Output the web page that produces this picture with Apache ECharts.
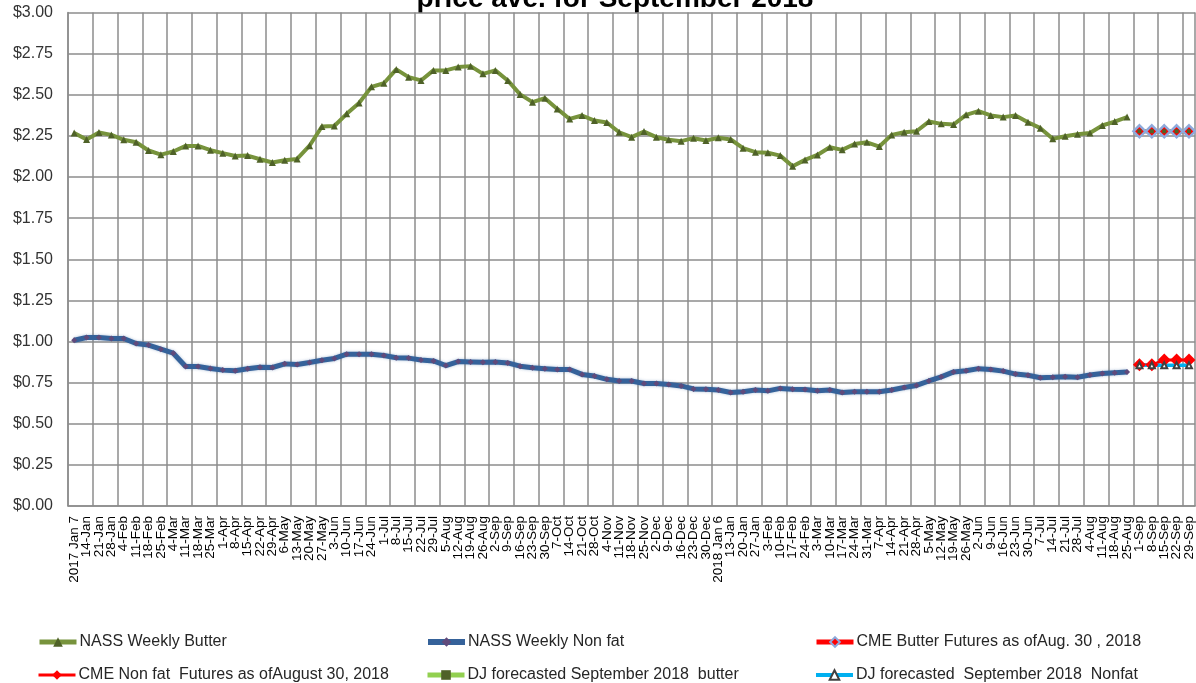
<!DOCTYPE html>
<html>
<head>
<meta charset="utf-8">
<script src="https://cdn.jsdelivr.net/npm/echarts@6/dist/echarts.min.js"></script>
<style>
html,body{margin:0;padding:0;background:#fff;}
#chart{width:1196px;height:683px;}
</style>
</head>
<body>
<div id="chart"></div>
<script>
const categories = ['2017 Jan 7','14-Jan','21-Jan','28-Jan','4-Feb','11-Feb','18-Feb','25-Feb','4-Mar','11-Mar','18-Mar','25-Mar','1-Apr','8-Apr','15-Apr','22-Apr','29-Apr','6-May','13-May','20-May','27-May','3-Jun','10-Jun','17-Jun','24-Jun','1-Jul','8-Jul','15-Jul','22-Jul','29-Jul','5-Aug','12-Aug','19-Aug','26-Aug','2-Sep','9-Sep','16-Sep','23-Sep','30-Sep','7-Oct','14-Oct','21-Oct','28-Oct','4-Nov','11-Nov','18-Nov','25-Nov','2-Dec','9-Dec','16-Dec','23-Dec','30-Dec','2018 Jan 6','13-Jan','20-Jan','27-Jan','3-Feb','10-Feb','17-Feb','24-Feb','3-Mar','10-Mar','17-Mar','24-Mar','31-Mar','7-Apr','14-Apr','21-Apr','28-Apr','5-May','12-May','19-May','26-May','2-Jun','9-Jun','16-Jun','23-Jun','30-Jun','7-Jul','14-Jul','21-Jul','28-Jul','4-Aug','11-Aug','18-Aug','25-Aug','1-Sep','8-Sep','15-Sep','22-Sep','29-Sep'];

const nassButter = [2.268,2.228,2.270,2.256,2.226,2.211,2.161,2.136,2.155,2.189,2.189,2.163,2.145,2.128,2.130,2.108,2.088,2.102,2.110,2.190,2.307,2.310,2.384,2.450,2.548,2.570,2.654,2.607,2.587,2.648,2.648,2.668,2.674,2.627,2.648,2.587,2.502,2.455,2.479,2.414,2.353,2.374,2.343,2.331,2.272,2.242,2.276,2.242,2.226,2.218,2.236,2.222,2.238,2.228,2.175,2.151,2.147,2.130,2.065,2.104,2.134,2.181,2.165,2.201,2.211,2.185,2.256,2.272,2.278,2.337,2.323,2.319,2.378,2.400,2.374,2.364,2.374,2.333,2.297,2.232,2.248,2.260,2.268,2.313,2.337,2.364,null,null,null,null,null];

const nassNonfat = [1.008,1.024,1.024,1.018,1.018,0.988,0.978,0.953,0.929,0.848,0.848,0.836,0.826,0.822,0.834,0.844,0.842,0.864,0.860,0.872,0.886,0.897,0.923,0.923,0.923,0.915,0.901,0.899,0.888,0.882,0.854,0.878,0.876,0.874,0.876,0.870,0.850,0.840,0.835,0.830,0.830,0.800,0.790,0.770,0.760,0.760,0.745,0.745,0.738,0.730,0.712,0.710,0.705,0.690,0.695,0.705,0.700,0.715,0.710,0.708,0.700,0.705,0.690,0.695,0.695,0.695,0.705,0.720,0.733,0.760,0.785,0.815,0.822,0.835,0.830,0.820,0.802,0.795,0.780,0.782,0.786,0.783,0.796,0.806,0.810,0.814,null,null,null,null,null];

const forecastPad = new Array(86).fill(null);
const cmeButter = forecastPad.concat([2.278,2.278,2.278,2.278,2.278]);
const cmeNonfat = forecastPad.concat([0.858,0.858,0.887,0.887,0.887]);
const djButter = forecastPad.concat([2.278,2.278,2.278,2.278,2.278]);
const djNonfat = forecastPad.concat([0.855,0.855,0.855,0.855,0.855]);

const yTicks = {min:0, max:3, interval:0.25};
const titleText = 'price ave. for September 2018';

const chart = echarts.init(document.getElementById('chart'), null, {renderer:'canvas'});
const FONT = 'Liberation Sans';
function legendAt(name, left, top, lw){
  return {
    data:[name], left:left, top:top, itemWidth:37, itemHeight:12, itemGap:0, padding:0,
    lineStyle:{width:lw},
    textStyle:{fontFamily:FONT, fontSize:16, color:'#262626', padding:[0,0,0,-2]}
  };
}
chart.setOption({
  animation:false,
  backgroundColor:'#fff',
  graphic:[{
    type:'text', x:615, y:13,
    style:{text:titleText, font:'bold 28px "Liberation Sans"', fill:'#000', textAlign:'center', textVerticalAlign:'bottom'}
  }],
  grid:{left:68, right:0, top:12.5, bottom:177, containLabel:false},
  legend:[
    legendAt('NASS Weekly Butter', 37, 634, 5),
    legendAt('NASS Weekly Non fat', 425, 634, 6),
    legendAt('CME Butter Futures as ofAug. 30 , 2018', 814, 634, 5),
    legendAt('CME Non fat  Futures as ofAugust 30, 2018', 37, 667, 3),
    legendAt('DJ forecasted September 2018  butter', 425, 667, 5),
    legendAt('DJ forecasted  September 2018  Nonfat', 814, 667, 4)
  ],
  xAxis:{
    type:'category', data:categories, boundaryGap:true,
    axisLine:{lineStyle:{color:'#8c8c8c', width:1.5}},
    axisTick:{show:false},
    splitLine:{show:true, interval:1, lineStyle:{color:'#8c8c8c', width:1.5}},
    axisLabel:{interval:0, rotate:90, fontFamily:FONT, fontSize:13.5, color:'#000', margin:10, hideOverlap:false}
  },
  yAxis:{
    type:'value', min:yTicks.min, max:yTicks.max, interval:yTicks.interval,
    axisLine:{show:true, lineStyle:{color:'#8c8c8c', width:1.5}},
    axisTick:{show:false},
    splitLine:{lineStyle:{color:'#8c8c8c', width:1.5}},
    axisLabel:{fontFamily:FONT, fontSize:16, color:'#333', margin:15, formatter:v=>'$'+v.toFixed(2)}
  },
  series:[
    {name:'NASS Weekly Butter', type:'line', data:nassButter, symbol:'triangle', symbolSize:7,
      lineStyle:{color:'#77933C', width:4}, itemStyle:{color:'#4F6228'}},
    {name:'NASS Weekly Non fat', type:'line', data:nassNonfat, symbol:'diamond', symbolSize:6,
      lineStyle:{color:'#35629A', width:5, shadowColor:'rgba(53,98,154,0.4)', shadowBlur:3}, itemStyle:{color:'#604A7B'}},
    {name:'CME Butter Futures as ofAug. 30 , 2018', type:'line', data:cmeButter, symbol:'diamond', symbolSize:12,
      lineStyle:{color:'#FF0000', width:4}, itemStyle:{color:'#FF0000', borderColor:'#8EA9DB', borderWidth:2.5}},
    {name:'CME Non fat  Futures as ofAugust 30, 2018', type:'line', data:cmeNonfat, symbol:'diamond', symbolSize:13,
      lineStyle:{color:'#FF0000', width:3}, itemStyle:{color:'#FF0000'}},
    {name:'DJ forecasted September 2018  butter', type:'line', data:djButter, symbol:'rect', symbolSize:4,
      lineStyle:{color:'#92D050', width:4}, itemStyle:{color:'#4F6228'}},
    {name:'DJ forecasted  September 2018  Nonfat', type:'line', data:djNonfat, symbol:'emptyTriangle', symbolSize:6,
      lineStyle:{color:'#00B0F0', width:3.5}, itemStyle:{color:'#404040', borderWidth:1.2}}
  ]
});
</script>
</body>
</html>
